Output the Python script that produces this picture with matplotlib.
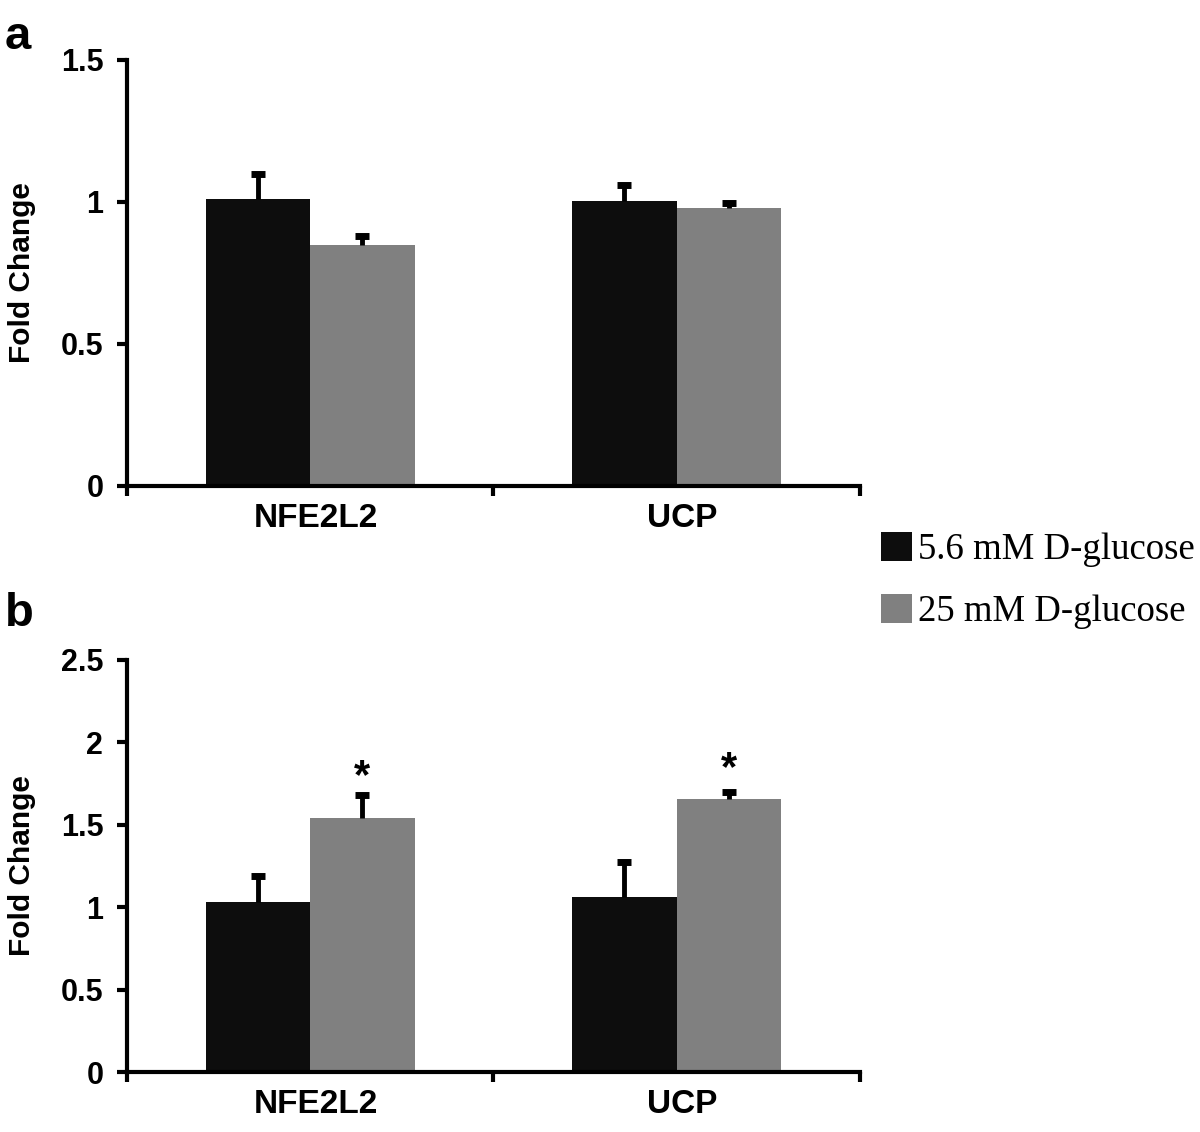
import matplotlib
matplotlib.use("Agg")
import matplotlib.pyplot as plt
import matplotlib.transforms as mtransforms
import numpy as np
from matplotlib.patches import Patch

# data
genes = ["NFE2L2", "UCP"]
series_names = ["5.6 mM D-glucose", "25 mM D-glucose"]
colors = ["#0d0d0d", "#808080"]

a_low = [1.01, 1.005]
a_low_err = [0.09, 0.055]
a_high = [0.85, 0.98]
a_high_err = [0.03, 0.015]

b_low = [1.03, 1.06]
b_low_err = [0.16, 0.215]
b_high = [1.54, 1.655]
b_high_err = [0.14, 0.045]
b_sig = ["*", "*"]
b_sig_y = [1.67, 1.715]

plt.rcParams["font.family"] = ["Liberation Sans", "DejaVu Sans"]

fig = plt.figure(figsize=(12, 11.32), dpi=100)
ax_a = fig.add_axes([0.1058, 0.5707, 0.6108, 0.3763])
ax_b = fig.add_axes([0.1058, 0.0530, 0.6108, 0.3640])

w = 0.285


def draw_panel(ax, low, low_err, high, high_err, ymax, yticks, ticklabels):
    x = np.arange(len(genes))
    for vals, errs, off, col in [(low, low_err, -w / 2, colors[0]),
                                 (high, high_err, w / 2, colors[1])]:
        vals = np.array(vals)
        tops = vals + np.array(errs)
        ax.bar(x + off, vals, width=w, color=col, edgecolor="none", zorder=2)
        # upper error only: stem plus a thick cap
        ax.vlines(x + off, vals, tops, color="black", linewidth=3.5, zorder=3)
        ax.plot(x + off, tops, linestyle="none", marker="_", markersize=10,
                markeredgewidth=5, color="black", zorder=3)
    ax.set_xlim(-0.5, 1.5)
    ax.set_ylim(0, ymax)
    for s in ["top", "right"]:
        ax.spines[s].set_visible(False)
    for s in ["left", "bottom"]:
        ax.spines[s].set_linewidth(3)
    ax.set_yticks(yticks)
    ax.set_yticklabels(ticklabels, fontsize=22, fontweight="bold")
    ax.tick_params(axis="y", direction="out", length=7, width=3, pad=10)
    ax.set_xticks(x)
    ax.set_xticklabels(genes, fontsize=24, fontweight="bold")
    ax.tick_params(axis="x", which="major", length=0, pad=12)
    shift = mtransforms.ScaledTranslation(6 / 100, 0, fig.dpi_scale_trans)
    for lab in ax.get_xticklabels():
        lab.set_transform(lab.get_transform() + shift)
    ax.set_xticks([-0.5, 0.5, 1.5], minor=True)
    ax.tick_params(axis="x", which="minor", direction="out", length=7, width=3)
    ax.set_ylabel("Fold Change", fontsize=21.5, fontweight="bold", labelpad=18)


draw_panel(ax_a, a_low, a_low_err, a_high, a_high_err, 1.5,
           [0, 0.5, 1, 1.5], ["0", "0.5", "1", "1.5"])
draw_panel(ax_b, b_low, b_low_err, b_high, b_high_err, 2.5,
           [0, 0.5, 1, 1.5, 2, 2.5], ["0", "0.5", "1", "1.5", "2", "2.5"])

for i, s in enumerate(b_sig):
    ax_b.text(i + w / 2, b_sig_y[i], s, ha="center",
              va="bottom", fontsize=30, fontweight="bold")

fig.text(0.004, 0.987, "a", fontsize=34, fontweight="bold", va="top")
fig.text(0.004, 0.477, "b", fontsize=34, fontweight="bold", va="top")

handles = [Patch(facecolor=c, edgecolor="none") for c in colors]
fig.legend(handles, series_names, loc="upper left",
           bbox_to_anchor=(0.734, 1 - 532 / 1132), frameon=False,
           prop={"family": "Liberation Serif", "size": 26.5},
           handlelength=0.85, handleheight=0.85, handletextpad=0.15,
           labelspacing=0.72, borderpad=0, borderaxespad=0)

fig.savefig("out.png", dpi=100)
